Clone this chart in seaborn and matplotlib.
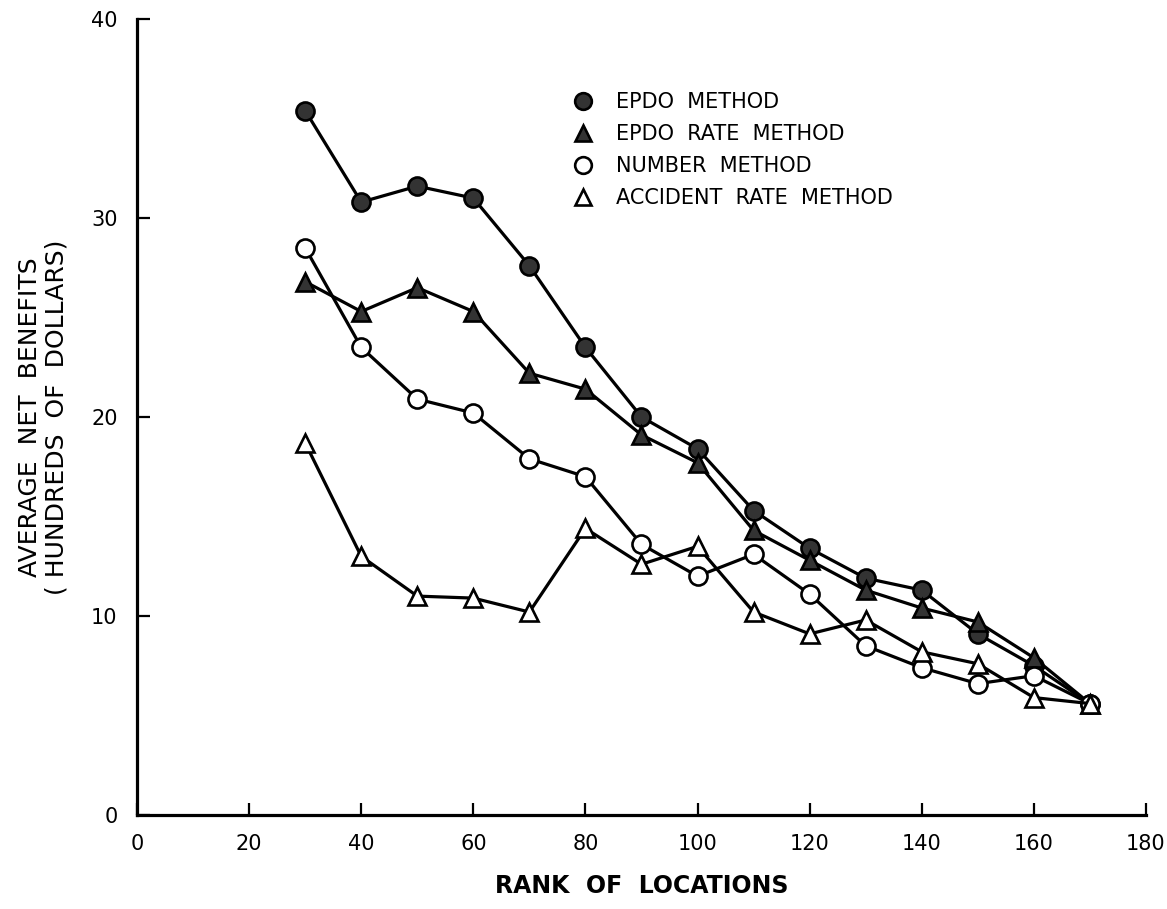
#!/usr/bin/python
import seaborn as sns
import matplotlib.pyplot as plt
from matplotlib.lines import Line2D
import pandas as pd

# rank of locations (x) and average net benefits, hundreds of dollars (y)
ranks = [30, 40, 50, 60, 70, 80, 90, 100, 110, 120, 130, 140, 150, 160, 170]
epdo = [35.4, 30.8, 31.6, 31.0, 27.6, 23.5, 20.0, 18.4, 15.3, 13.4, 11.9, 11.3, 9.1, 7.5, 5.6]
epdo_rate = [26.8, 25.3, 26.5, 25.3, 22.2, 21.4, 19.1, 17.7, 14.3, 12.8, 11.3, 10.4, 9.7, 7.9, 5.6]
number = [28.5, 23.5, 20.9, 20.2, 17.9, 17.0, 13.6, 12.0, 13.1, 11.1, 8.5, 7.4, 6.6, 7.0, 5.6]
accident_rate = [18.7, 13.0, 11.0, 10.9, 10.2, 14.4, 12.6, 13.5, 10.2, 9.1, 9.8, 8.2, 7.6, 5.9, 5.6]

labels = ["EPDO  METHOD", "EPDO  RATE  METHOD", "NUMBER  METHOD", "ACCIDENT  RATE  METHOD"]
x_ticks = [0, 20, 40, 60, 80, 100, 120, 140, 160, 180]
y_ticks = [0, 10, 20, 30, 40]

FILL = "#333333"


def build_frame():
    return pd.DataFrame({
        "rank": ranks,
        "epdo": epdo,
        "epdo_rate": epdo_rate,
        "number": number,
        "accident_rate": accident_rate,
    })


def create_plot(df):
    fig = plt.figure(figsize=(11.67, 9.09), dpi=100)
    ax = fig.add_axes([0.1174, 0.1034, 0.8646, 0.8757])

    # marker style per series: (marker, face colour)
    styles = [("o", FILL), ("^", FILL), ("o", "white"), ("^", "white")]
    cols = ["epdo", "epdo_rate", "number", "accident_rate"]
    for col, (mk, face) in zip(cols, styles):
        sns.lineplot(x="rank", y=col, data=df, ax=ax, color="black", linewidth=2.3,
                     marker=mk, markersize=13, markerfacecolor=face,
                     markeredgecolor="black", markeredgewidth=1.9, clip_on=False)

    ax.set_xlim(0, 180)
    ax.set_ylim(0, 40)
    ax.set_xticks(x_ticks)
    ax.set_yticks(y_ticks)
    ax.tick_params(axis="both", direction="in", length=9, width=1.6,
                   labelsize=15, color="black", labelcolor="black")
    ax.tick_params(axis="x", pad=14)
    ax.tick_params(axis="y", pad=14)
    for side in ["top", "right"]:
        ax.spines[side].set_visible(False)
    for side in ["left", "bottom"]:
        ax.spines[side].set_linewidth(2.3)
        ax.spines[side].set_color("black")

    ax.set_xlabel("RANK  OF  LOCATIONS", fontsize=17, fontweight="bold",
                  labelpad=14, color="black")
    ax.set_ylabel("AVERAGE  NET  BENEFITS\n( HUNDREDS  OF  DOLLARS)", fontsize=18,
                  labelpad=16, linespacing=1.15, color="black")

    handles = []
    for mk, face in styles:
        handles.append(Line2D([], [], linestyle="none", marker=mk, markersize=12,
                              markerfacecolor=face, markeredgecolor="black",
                              markeredgewidth=1.9))
    leg = ax.legend(handles, labels, loc="upper left", bbox_to_anchor=(0.411, 0.932),
                    frameon=False, fontsize=15, handletextpad=1.0, labelspacing=0.58,
                    handlelength=1.2)
    for t in leg.get_texts():
        t.set_color("black")
    return fig, ax


def main():
    sns.set_style("ticks")
    plt.rcParams["font.family"] = ["DejaVu Sans"]
    plt.rcParams["xtick.direction"] = "in"
    plt.rcParams["ytick.direction"] = "in"
    df = build_frame()
    fig, ax = create_plot(df)
    fig.savefig("out.png", dpi=100)
    plt.close()


if __name__ == "__main__":
    main()
